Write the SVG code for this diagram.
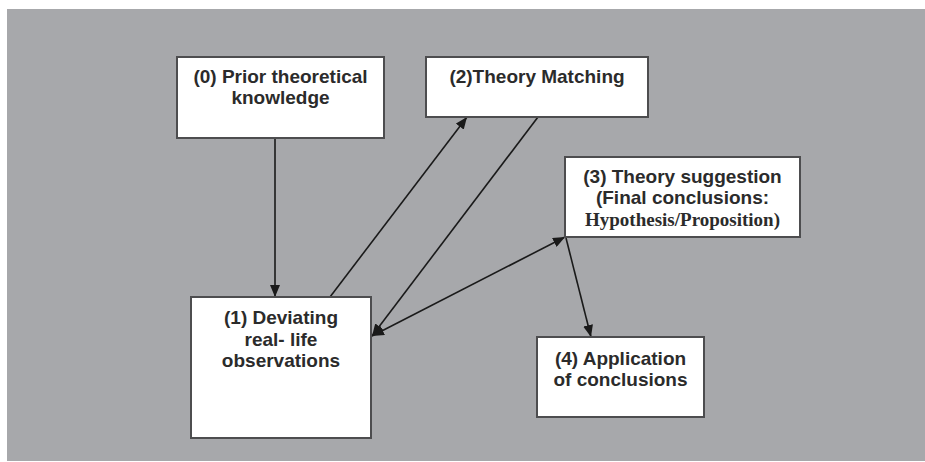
<svg xmlns="http://www.w3.org/2000/svg" width="925" height="462" viewBox="0 0 925 462">
  <style>
    .box { fill: #ffffff; stroke: #4d4d4f; stroke-width: 2; }
    .lbl { font-family: "Liberation Sans", Arial, sans-serif; font-weight: bold; font-size: 19px; fill: #2b2b2b; text-anchor: middle; }
    .serif { font-family: "Liberation Serif", "Times New Roman", serif; font-weight: bold; font-size: 19px; }
    .edge { stroke: #1a1a1a; stroke-width: 1.6; fill: none; }
  </style>
  <defs>
    <marker id="arrowEnd" viewBox="0 0 12 10" refX="12" refY="5" markerWidth="12" markerHeight="10" markerUnits="userSpaceOnUse" orient="auto">
      <path d="M0,0 L12,5 L0,10 Z" fill="#1a1a1a"/>
    </marker>
    <marker id="arrowStart" viewBox="0 0 12 10" refX="0" refY="5" markerWidth="12" markerHeight="10" markerUnits="userSpaceOnUse" orient="auto">
      <path d="M12,0 L0,5 L12,10 Z" fill="#1a1a1a"/>
    </marker>
  </defs>

  <!-- backdrop panel -->
  <rect x="7" y="9" width="918" height="452" fill="#a7a8ab"/>

  <!-- connectors -->
  <g id="connectors">
    <line class="edge" x1="275" y1="138" x2="275" y2="297" marker-end="url(#arrowEnd)"/>
    <line class="edge" x1="330" y1="297" x2="467" y2="117" marker-end="url(#arrowEnd)"/>
    <line class="edge" x1="538" y1="117" x2="372" y2="336" marker-end="url(#arrowEnd)"/>
    <line class="edge" x1="372" y1="336" x2="565" y2="237" marker-start="url(#arrowStart)" marker-end="url(#arrowEnd)"/>
    <line class="edge" x1="566" y1="238" x2="591" y2="337" marker-end="url(#arrowEnd)"/>
  </g>

  <!-- (0) prior knowledge -->
  <g id="node0">
    <rect class="box" x="177" y="57" width="207" height="81"/>
    <text class="lbl" x="280.5" y="83">(0) Prior theoretical</text>
    <text class="lbl" x="280.5" y="104">knowledge</text>
  </g>

  <!-- (2) theory matching -->
  <g id="node2">
    <rect class="box" x="426" y="57" width="222" height="60"/>
    <text class="lbl" x="537" y="83">(2)Theory Matching</text>
  </g>

  <!-- (3) theory suggestion -->
  <g id="node3">
    <rect class="box" x="565" y="157" width="235" height="80"/>
    <text class="lbl" x="682.5" y="183">(3) Theory suggestion</text>
    <text class="lbl" x="682.5" y="204">(Final conclusions:</text>
    <text class="lbl serif" x="682.5" y="226">Hypothesis/Proposition)</text>
  </g>

  <!-- (1) deviating observations -->
  <g id="node1">
    <rect class="box" x="191" y="297" width="180" height="141"/>
    <text class="lbl" x="281" y="324">(1) Deviating</text>
    <text class="lbl" x="281" y="346">real- life</text>
    <text class="lbl" x="281" y="367">observations</text>
  </g>

  <!-- (4) application -->
  <g id="node4">
    <rect class="box" x="537" y="337" width="167" height="80"/>
    <text class="lbl" x="620.5" y="365">(4) Application</text>
    <text class="lbl" x="620.5" y="386">of conclusions</text>
  </g>
</svg>
